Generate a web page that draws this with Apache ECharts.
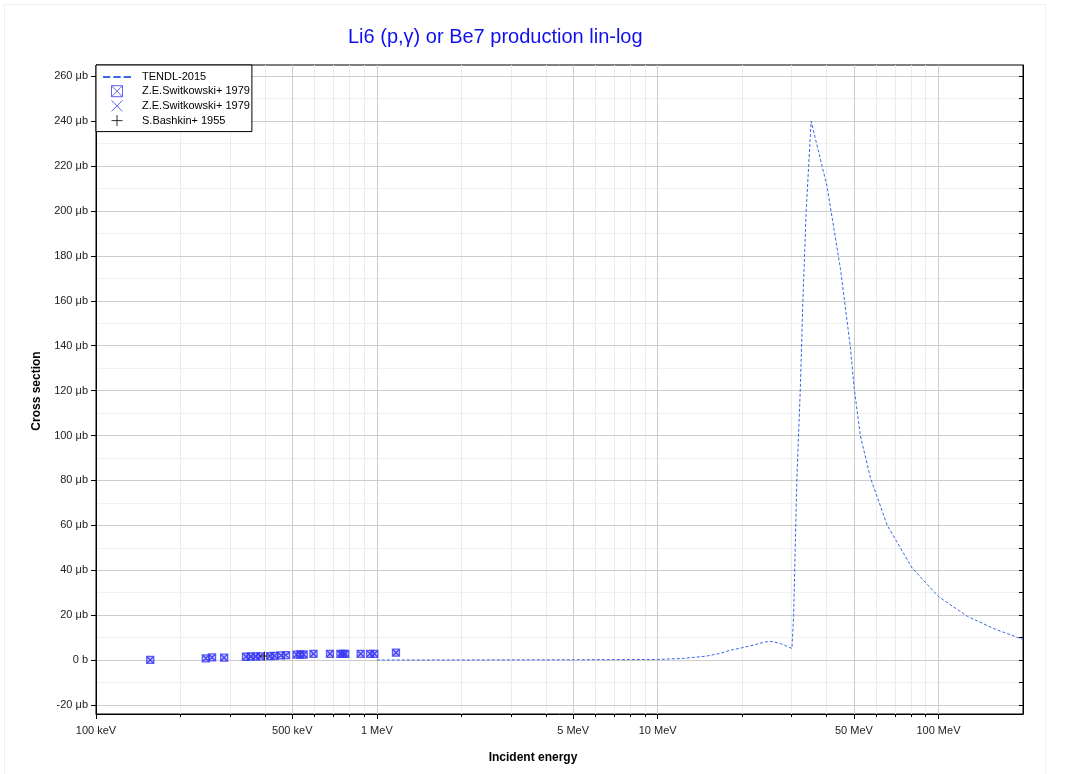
<!DOCTYPE html>
<html><head><meta charset="utf-8">
<script src="https://cdn.jsdelivr.net/npm/echarts@6/dist/echarts.min.js"></script>
<style>html,body{margin:0;padding:0;background:#fff}#c{width:1071px;height:774px}</style>
</head><body><div id="c"></div>
<script>
const titleText = 'Li6 (p,γ) or Be7 production lin-log';
const xName = 'Incident energy';
const yName = 'Cross section';
const seriesNames = ['TENDL-2015', 'Z.E.Switkowski+ 1979', 'Z.E.Switkowski+ 1979 ', 'S.Bashkin+ 1955'];

// x in MeV, y in microbarn
const xMajorTicks = [0.1, 0.5, 1, 5, 10, 50, 100];
const xMinorTicks = [0.2, 0.3, 0.4, 0.6, 0.7, 0.8, 0.9, 2, 3, 4, 6, 7, 8, 9, 20, 30, 40, 60, 70, 80, 90];
const yMajorTicks = [-20, 0, 20, 40, 60, 80, 100, 120, 140, 160, 180, 200, 220, 240, 260];
const yMinorTicks = [-10, 10, 30, 50, 70, 90, 110, 130, 150, 170, 190, 210, 230, 250];
const yRightTicks = [-20, -10, 0, 10, 20, 30, 40, 50, 60, 70, 80, 90, 100, 110, 120, 130, 140, 150, 160, 170, 180, 190, 200, 210, 220, 230, 240, 250, 260];

const tendlE  = [1, 2, 5, 8, 10, 12.35, 14.96, 16.7, 18.13, 19.68, 21.95, 24.16, 25.53, 27.35, 30.07, 30.5, 31.3, 32.2, 32.9, 33.8, 35.2, 38.5, 40.1, 44.8, 48.6, 50, 52.7, 57.3, 65.7, 80.6, 100, 126.7, 157.6, 200];
const tendlXS = [0.05, 0.08, 0.15, 0.25, 0.3, 0.75, 1.8, 3.0, 4.4, 5.3, 6.7, 8.1, 8.3, 7.4, 5.2, 20, 80, 120, 160, 200, 240, 220, 211, 174, 139, 122, 100, 81, 60, 41, 28.3, 19.5, 14, 9.2];

const swE  = [0.156, 0.246, 0.259, 0.286, 0.342, 0.356, 0.371, 0.385, 0.417, 0.432, 0.455, 0.475, 0.518, 0.534, 0.549, 0.595, 0.681, 0.742, 0.757, 0.772, 0.876, 0.946, 0.980, 1.17];
const swXS = [0.1, 0.8, 1.2, 1.1, 1.5, 1.6, 1.7, 1.7, 1.8, 1.9, 2.1, 2.2, 2.4, 2.5, 2.5, 2.8, 2.8, 2.8, 2.8, 2.8, 2.8, 2.8, 2.8, 3.3];

const bashkinE  = [0.398];
const bashkinXS = [1.8];

const zip = (a, b) => a.map((v, i) => [v, b[i]]);
const FONT = 'Liberation Sans, Arial, sans-serif';
const BLUE = '#3a3af5';
const LINEBLUE = '#3a66e6';
const boxX = 'path://M0,0H10V10H0Z M0,0L10,10 M10,0L0,10';
const crossX = 'path://M0,0L10,10 M10,0L0,10';
const plus = 'path://M5,0V10 M0,5H10';
const dashIcon = 'path://M0,0H7V2H0Z M10,0H17V2H10Z M20,0H27V2H20Z';

const fmtX = v => v < 1 ? Math.round(v * 1000) + ' keV' : Math.round(v) + ' MeV';
const fmtY = v => v === 0 ? '0 b' : v + ' μb';

const chart = echarts.init(document.getElementById('c'), null, {renderer: 'canvas'});
const grid = {left: 96, top: 65, right: 48, bottom: 60, show: true, borderColor: '#000', borderWidth: 1, backgroundColor: '#fff', containLabel: false};

chart.setOption({
  animation: false,
  backgroundColor: '#fff',
  textStyle: {fontFamily: FONT},
  title: {text: titleText, left: 343, top: 22, textStyle: {color: '#1010ee', fontSize: 20, fontWeight: 'normal', fontFamily: FONT}},
  grid: grid,
  graphic: [
    {type: 'rect', z: -10, shape: {x: 4.5, y: 4.5, width: 1041, height: 790}, style: {fill: 'none', stroke: '#f0f0f0', lineWidth: 1}},
    {type: 'text', x: 533, y: 758, style: {text: xName, fill: '#000', font: 'bold 12px ' + FONT, textAlign: 'center', textVerticalAlign: 'middle'}},
    {type: 'text', x: 37, y: 391, rotation: Math.PI / 2, style: {text: yName, fill: '#000', font: 'bold 12px ' + FONT, textAlign: 'center', textVerticalAlign: 'middle'}}
  ],
  legend: {
    left: 96, top: 65, orient: 'vertical', backgroundColor: '#fff', borderColor: '#000', borderWidth: 1,
    padding: [6.5, 2, 5, 7], itemGap: 2.7, itemWidth: 28, itemHeight: 11, selectedMode: false,
    textStyle: {fontSize: 11, color: '#000', fontFamily: FONT, padding: [0, 0, 0, 6]},
    data: [
      {name: seriesNames[0], icon: dashIcon, itemStyle: {color: LINEBLUE, borderWidth: 0}},
      {name: seriesNames[1], icon: boxX, itemStyle: {color: 'rgba(0,0,0,0)', borderColor: BLUE, borderWidth: 1}},
      {name: seriesNames[2], icon: crossX, itemStyle: {color: 'rgba(0,0,0,0)', borderColor: BLUE, borderWidth: 1}},
      {name: seriesNames[3], icon: plus, itemStyle: {color: 'rgba(0,0,0,0)', borderColor: '#000', borderWidth: 1}}
    ],
    formatter: n => n.trim(),
    z: 20
  },
  xAxis: [
    {type: 'log', logBase: 10, min: 0.1, max: 200, position: 'bottom', z: 2,
     axisLine: {show: true, onZero: false, lineStyle: {color: '#000', width: 1}},
     axisTick: {show: true, interval: 0, customValues: xMajorTicks, length: 5, lineStyle: {color: '#000'}},
     axisLabel: {show: true, interval: 0, customValues: xMajorTicks, formatter: fmtX, color: '#222', fontSize: 11, margin: 11, fontFamily: FONT},
     splitLine: {show: true, interval: 0, lineStyle: {color: '#cccccc', width: 1}},
     minorTick: {show: false}, minorSplitLine: {show: false}},
    {type: 'log', logBase: 10, min: 0.1, max: 200, position: 'bottom', z: 1,
     axisLine: {show: false, onZero: false},
     axisTick: {show: true, interval: 0, customValues: xMinorTicks, length: 3, lineStyle: {color: '#000'}},
     axisLabel: {show: false, interval: 0},
     splitLine: {show: true, interval: 0, lineStyle: {color: '#ececec', width: 1}}}
  ],
  yAxis: [
    {type: 'value', min: -24, max: 265, position: 'left', z: 2,
     axisLine: {show: true, onZero: false, lineStyle: {color: '#000', width: 1}},
     axisTick: {show: true, interval: 0, customValues: yMajorTicks, length: 5, lineStyle: {color: '#000'}},
     axisLabel: {show: true, interval: 0, customValues: yMajorTicks, formatter: fmtY, color: '#222', fontSize: 11, margin: 8, fontFamily: FONT},
     splitLine: {show: true, interval: 0, lineStyle: {color: '#cccccc', width: 1}}},
    {type: 'value', min: -24, max: 265, position: 'right', z: 1,
     axisLine: {show: false, onZero: false},
     axisTick: {show: false, interval: 0, customValues: yMinorTicks},
     axisLabel: {show: false, interval: 0, customValues: yMinorTicks},
     splitLine: {show: true, interval: 0, lineStyle: {color: '#f0f0f0', width: 1}}},
    {type: 'value', min: -24, max: 265, position: 'right', z: 3,
     axisLine: {show: true, onZero: false, lineStyle: {color: '#000', width: 1}},
     axisTick: {show: true, inside: true, interval: 0, customValues: yRightTicks, length: 4, lineStyle: {color: '#000'}},
     axisLabel: {show: false, interval: 0, customValues: yRightTicks},
     splitLine: {show: false}}
  ],
  series: [
    {name: seriesNames[0], type: 'line', xAxisIndex: 0, yAxisIndex: 0, z: 5,
     data: zip(tendlE, tendlXS), symbol: 'none', showSymbol: false, smooth: false,
     lineStyle: {color: LINEBLUE, width: 1, type: [3, 2]}, itemStyle: {color: LINEBLUE}},
    {name: seriesNames[2], type: 'scatter', xAxisIndex: 0, yAxisIndex: 0, z: 6,
     data: zip(swE, swXS), symbol: crossX, symbolSize: 7,
     itemStyle: {color: 'rgba(0,0,0,0)', borderColor: BLUE, borderWidth: 1}},
    {name: seriesNames[1], type: 'scatter', xAxisIndex: 0, yAxisIndex: 0, z: 7,
     data: zip(swE, swXS), symbol: boxX, symbolSize: 7,
     itemStyle: {color: 'rgba(58,58,245,0.35)', borderColor: BLUE, borderWidth: 1.3}},
    {name: seriesNames[3], type: 'scatter', xAxisIndex: 0, yAxisIndex: 0, z: 8,
     data: zip(bashkinE, bashkinXS), symbol: plus, symbolSize: 9,
     itemStyle: {color: 'rgba(0,0,0,0)', borderColor: '#000', borderWidth: 1}}
  ]
});
</script></body></html>
